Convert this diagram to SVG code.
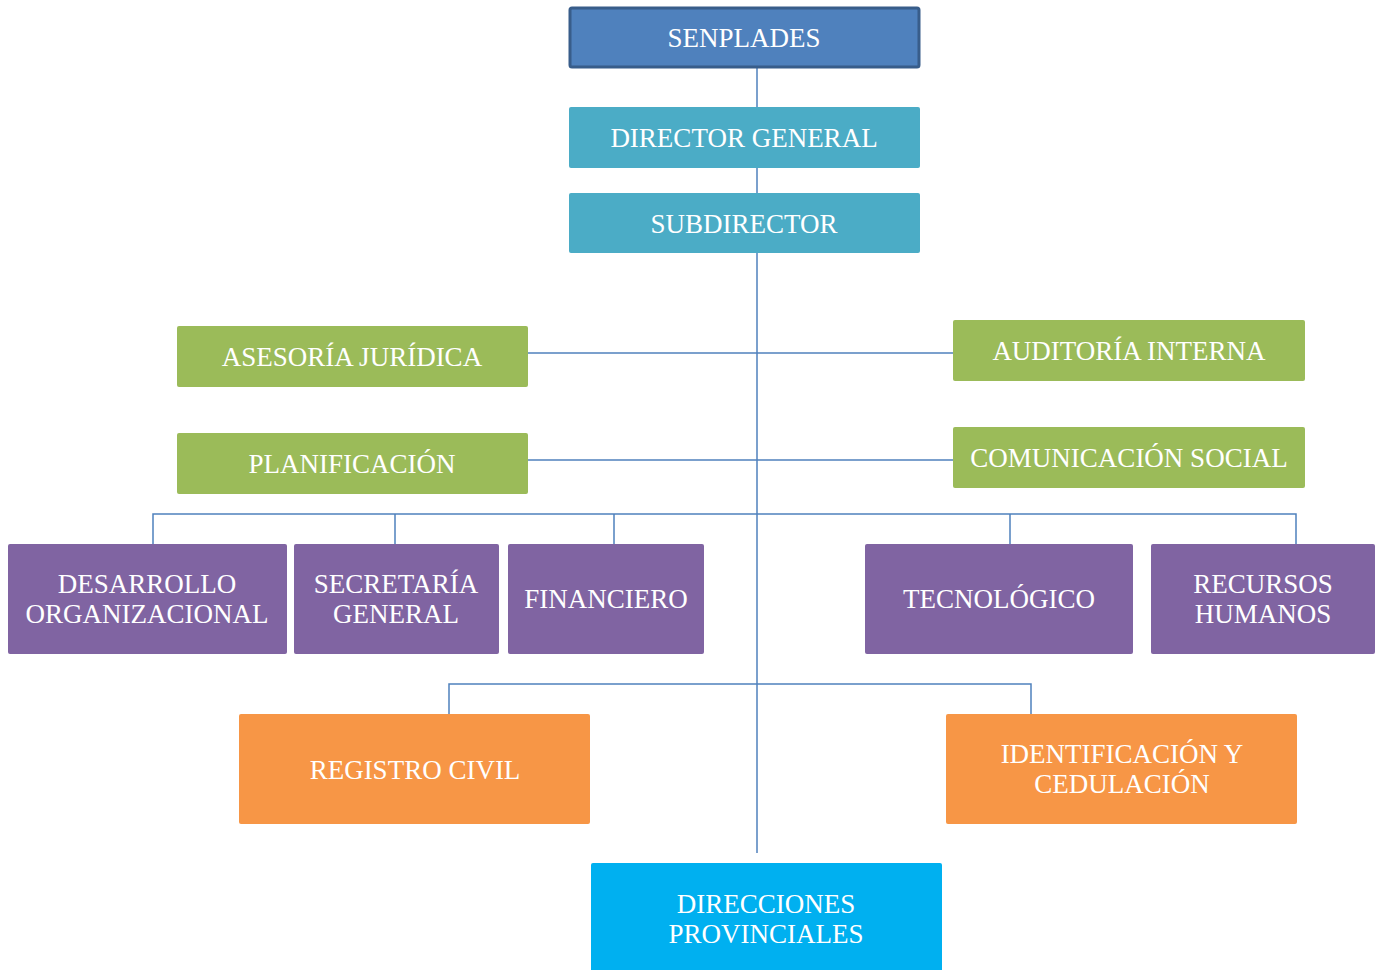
<svg xmlns="http://www.w3.org/2000/svg" width="1377" height="970" viewBox="0 0 1377 970">
<style>
.t{font-family:"Liberation Serif","Times New Roman",serif;font-size:27px;fill:#fff;text-anchor:middle;dominant-baseline:central}
.c{stroke:#4F81BD;stroke-width:1.5;fill:none}
.blue{fill:#4F81BD;stroke:#385D8A;stroke-width:3}
.teal{fill:#4BACC6}
.green{fill:#9BBB59}
.purple{fill:#8064A2}
.orange{fill:#F79646}
.cyan{fill:#00B0F0}
</style>
<rect width="1377" height="970" fill="#fff"/>
<g id="connectors">
<path class="c" d="M757 67V853"/>
<path class="c" d="M528 353H953"/>
<path class="c" d="M528 460H953"/>
<path class="c" d="M153 544V514H1296V544M395 514V544M614 514V544M1010 514V544"/>
<path class="c" d="M449 714V684H1031V714"/>
</g>
<g id="senplades"><rect class="blue" x="570" y="8" width="349" height="59" rx="2"/><text class="t" x="744" y="38">SENPLADES</text></g>
<g id="director"><rect class="teal" x="569" y="107" width="351" height="61" rx="2"/><text class="t" x="744" y="138">DIRECTOR GENERAL</text></g>
<g id="subdirector"><rect class="teal" x="569" y="193" width="351" height="60" rx="2"/><text class="t" x="744" y="224">SUBDIRECTOR</text></g>
<g id="asesoria"><rect class="green" x="177" y="326" width="351" height="61" rx="2"/><text class="t" x="352" y="357">ASESORÍA JURÍDICA</text></g>
<g id="auditoria"><rect class="green" x="953" y="320" width="352" height="61" rx="2"/><text class="t" x="1129" y="351">AUDITORÍA INTERNA</text></g>
<g id="planificacion"><rect class="green" x="177" y="433" width="351" height="61" rx="2"/><text class="t" x="352" y="464">PLANIFICACIÓN</text></g>
<g id="comunicacion"><rect class="green" x="953" y="427" width="352" height="61" rx="2"/><text class="t" x="1129" y="458">COMUNICACIÓN SOCIAL</text></g>
<g id="desarrollo"><rect class="purple" x="8" y="544" width="279" height="110" rx="2"/><text class="t" x="147" y="584">DESARROLLO</text><text class="t" x="147" y="614">ORGANIZACIONAL</text></g>
<g id="secretaria"><rect class="purple" x="294" y="544" width="205" height="110" rx="2"/><text class="t" x="396" y="584">SECRETARÍA</text><text class="t" x="396" y="614">GENERAL</text></g>
<g id="financiero"><rect class="purple" x="508" y="544" width="196" height="110" rx="2"/><text class="t" x="606" y="599">FINANCIERO</text></g>
<g id="tecnologico"><rect class="purple" x="865" y="544" width="268" height="110" rx="2"/><text class="t" x="999" y="599">TECNOLÓGICO</text></g>
<g id="recursos"><rect class="purple" x="1151" y="544" width="224" height="110" rx="2"/><text class="t" x="1263" y="584">RECURSOS</text><text class="t" x="1263" y="614">HUMANOS</text></g>
<g id="registro"><rect class="orange" x="239" y="714" width="351" height="110" rx="2"/><text class="t" x="415" y="770">REGISTRO CIVIL</text></g>
<g id="identificacion"><rect class="orange" x="946" y="714" width="351" height="110" rx="2"/><text class="t" x="1122" y="754">IDENTIFICACIÓN Y</text><text class="t" x="1122" y="784">CEDULACIÓN</text></g>
<g id="direcciones"><rect class="cyan" x="591" y="863" width="351" height="115" rx="2"/><text class="t" x="766" y="904">DIRECCIONES</text><text class="t" x="766" y="934">PROVINCIALES</text></g>
</svg>
